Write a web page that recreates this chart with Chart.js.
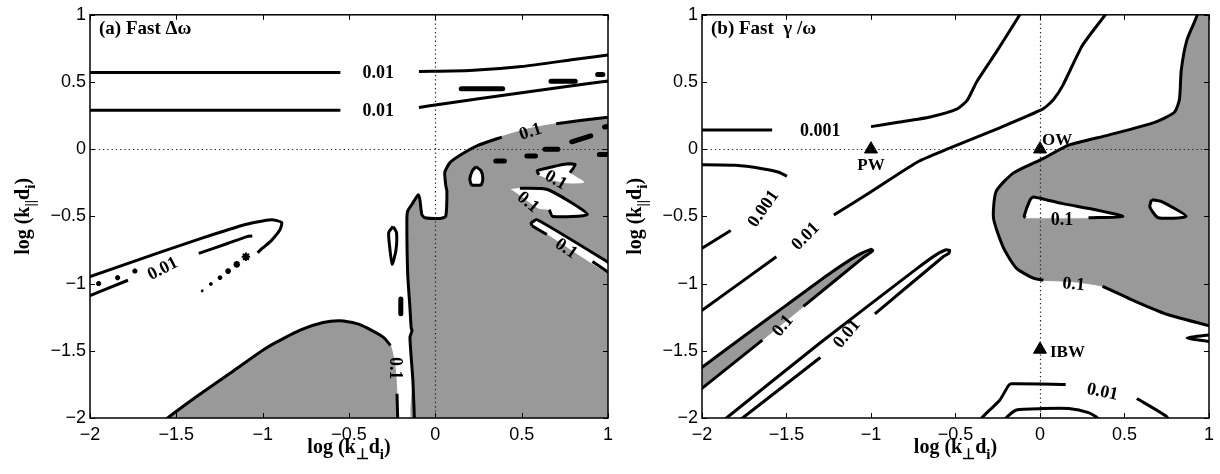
<!DOCTYPE html>
<html lang="en">
<head>
<meta charset="UTF-8">
<title>Fast wave contours</title>
<script src="https://cdn.jsdelivr.net/npm/chart.js@4.4.0/dist/chart.umd.min.js"></script>
<style>
    body { margin: 0; background: #fff; width: 1220px; height: 474px; overflow: hidden; position: relative; }
    canvas { position: absolute; top: 0; }
</style>
</head>
<body>
<canvas id="chartA" width="620" height="474" style="left:0"></canvas>
<canvas id="chartB" width="600" height="474" style="left:620px"></canvas>
<script>
// shared axis ticks (log k_perp d_i, log k_par d_i)
const tickValues = [-2, -1.5, -1, -0.5, 0, 0.5, 1];

// ---------- panel (a): Fast delta omega ----------
const aGrayMain = [[1.05,0.245],[0.85,0.215],[0.7,0.19],[0.55,0.155],[0.4,0.1],[0.25,0.03],[0.15,-0.04],[0.085,-0.1],[0.055,-0.17],[0.06,-0.265],[0.067,-0.315],[0.06,-0.5],[0.027,-0.515],[-0.06,-0.51],[-0.078,-0.487],[-0.09,-0.37],[-0.1,-0.34],[-0.135,-0.41],[-0.16,-0.46],[-0.165,-0.535],[-0.16,-0.93],[-0.147,-1.18],[-0.14,-1.33],[-0.135,-1.35],[-0.147,-1.4],[-0.13,-1.72],[-0.12,-2.05],[1.05,-2.05]];
const aGrayBlob = [[-1.58,-2.05],[-1.55,-2.0],[-1.36,-1.82],[-1.17,-1.65],[-0.975,-1.475],[-0.78,-1.345],[-0.65,-1.29],[-0.552,-1.277],[-0.45,-1.3],[-0.396,-1.33],[-0.3,-1.4],[-0.26,-1.46],[-0.235,-1.6],[-0.222,-1.82],[-0.217,-2.05]];
const aHoles = [
    [[0.235,-0.13],[0.265,-0.16],[0.275,-0.22],[0.265,-0.265],[0.21,-0.265],[0.2,-0.22],[0.215,-0.16],[0.235,-0.13]],
    [[0.59,-0.16],[0.68,-0.13],[0.76,-0.11],[0.81,-0.115],[0.78,-0.175],[0.86,-0.245],[0.76,-0.25],[0.66,-0.22],[0.6,-0.19]],
    [[0.44,-0.3],[0.5,-0.29],[0.65,-0.3],[0.88,-0.485],[0.68,-0.5],[0.66,-0.45],[0.6,-0.44],[0.52,-0.37]],
    [[0.555,-0.55],[0.59,-0.525],[1.05,-0.88],[1.05,-0.96],[0.6,-0.59],[0.56,-0.57]]
];
const aLines = [
    [[-2.05,0.571],[-0.55,0.571]],
    [[-0.095,0.578],[0.2,0.585],[0.5,0.615],[0.8,0.667],[1.05,0.71]],
    [[-2.05,0.29],[-0.55,0.29]],
    [[-0.095,0.31],[0.03,0.335],[0.25,0.375],[0.5,0.42],[0.75,0.465],[1.05,0.515]],
    [[1.05,0.245],[0.85,0.215],[0.7,0.19]],
    [[0.385,0.09],[0.25,0.03],[0.15,-0.04],[0.085,-0.1],[0.055,-0.17],[0.06,-0.265],[0.067,-0.315],[0.06,-0.5],[0.027,-0.515],[-0.06,-0.51],[-0.078,-0.487],[-0.09,-0.37],[-0.1,-0.34],[-0.135,-0.41],[-0.16,-0.46],[-0.165,-0.535],[-0.16,-0.93],[-0.147,-1.18],[-0.14,-1.33],[-0.135,-1.35],[-0.147,-1.4],[-0.13,-1.72],[-0.12,-2.05]],
    [[-1.58,-2.05],[-1.55,-2.0],[-1.36,-1.82],[-1.17,-1.65],[-0.975,-1.475],[-0.78,-1.345],[-0.65,-1.29],[-0.552,-1.277],[-0.45,-1.3],[-0.396,-1.33],[-0.3,-1.4],[-0.26,-1.46]],
    [[-0.222,-1.82],[-0.217,-2.05]],
    [[0.235,-0.13],[0.265,-0.16],[0.275,-0.22],[0.265,-0.265],[0.21,-0.265],[0.2,-0.22],[0.215,-0.16],[0.235,-0.13]],
    [[0.6,-0.19],[0.59,-0.16],[0.68,-0.13],[0.76,-0.11],[0.81,-0.115],[0.78,-0.175]],
    [[0.49,-0.29],[0.65,-0.3],[0.88,-0.485],[0.68,-0.5],[0.66,-0.45]],
    [[0.56,-0.57],[0.555,-0.55],[0.59,-0.525],[1.05,-0.88]],
    [[0.56,-0.57],[0.646,-0.635]],
    [[0.91,-0.835],[1.05,-0.96]],
    [[-0.245,-0.575],[-0.225,-0.62],[-0.228,-0.75],[-0.25,-0.855],[-0.265,-0.72],[-0.27,-0.62],[-0.245,-0.575]],
    [[-2.05,-0.97],[-1.6,-0.77],[-1.36,-0.665],[-1.1,-0.56],[-0.95,-0.525],[-0.89,-0.545],[-0.9,-0.6],[-0.95,-0.68],[-1.0,-0.735],[-1.03,-0.77]],
    [[-2.05,-1.115],[-1.78,-0.975]],
    [[-1.37,-0.775],[-1.2,-0.7],[-1.09,-0.65],[-1.06,-0.645]]
];
const aBlobs = [
    [[0.15,0.45],[0.39,0.45]], [[0.67,0.505],[0.81,0.505]], [[0.94,0.555],[0.97,0.555]],
    [[0.35,-0.087],[0.4,-0.087]], [[0.53,-0.05],[0.58,-0.05]], [[0.635,0.0],[0.71,0.0]],
    [[0.79,0.055],[0.9,0.1]], [[0.95,-0.04],[1.0,-0.04]], [[0.98,0.165],[1.0,0.17]],
    [[-0.2,-1.115],[-0.2,-1.225]]
];
const aDots = [[-1.95,-1.0],[-1.84,-0.956],[-1.74,-0.907],[-1.35,-1.054],[-1.3,-1.003],[-1.247,-0.956],[-1.2,-0.907],[-1.15,-0.857],[-1.097,-0.8]];
const aLabels = [
    ['0.01', -0.33, 0.571, 0], ['0.01', -0.33, 0.29, 0],
    ['0.1', 0.55, 0.135, -18], ['0.1', 0.7, -0.225, 30],
    ['0.1', 0.54, -0.39, 40], ['0.1', 0.76, -0.735, 35],
    ['0.1', -0.23, -1.63, 90], ['0.01', -1.58, -0.885, -27]
];

// ---------- panel (b): Fast gamma/omega ----------
const bGrayMain = [[0.92,1.05],[0.93,1.0],[0.87,0.815],[0.836,0.59],[0.825,0.37],[0.795,0.275],[0.678,0.2],[0.404,0.105],[0.17,0.03],[0.018,-0.07],[-0.16,-0.18],[-0.26,-0.315],[-0.275,-0.515],[-0.216,-0.735],[-0.14,-0.885],[-0.04,-0.96],[0.02,-0.975],[0.19,-0.985],[0.37,-1.02],[0.56,-1.13],[0.755,-1.23],[1.0,-1.31],[1.05,-1.33],[1.05,1.05]];
const bGraySliver = [[-2.05,-1.67],[-1.75,-1.39],[-1.5,-1.16],[-1.25,-0.93],[-1.08,-0.79],[-1.0,-0.745],[-0.99,-0.755],[-1.05,-0.81],[-1.4,-1.17],[-1.643,-1.42],[-2.05,-1.83]];
const bHoles = [
    [[-0.094,-0.5],[-0.06,-0.38],[-0.04,-0.355],[0.018,-0.37],[0.135,-0.405],[0.328,-0.45],[0.49,-0.5],[0.287,-0.51],[-0.094,-0.51]],
    [[0.66,-0.375],[0.72,-0.39],[0.865,-0.5],[0.7,-0.51],[0.65,-0.43],[0.66,-0.375]]
];
const bLines = [
    [[-2.05,0.143],[-1.585,0.143]],
    [[-1.0,0.168],[-0.84,0.2],[-0.65,0.24],[-0.49,0.3],[-0.43,0.365],[-0.375,0.5],[-0.26,0.72],[-0.12,1.0],[-0.1,1.05]],
    [[-2.05,-0.115],[-1.8,-0.12],[-1.643,-0.145],[-1.55,-0.17],[-1.497,-0.2]],
    [[-1.83,-0.605],[-2.05,-0.775]],
    [[-2.05,-1.245],[-1.56,-0.8]],
    [[-1.22,-0.49],[-1.0,-0.317],[-0.725,-0.095],[-0.55,0.0],[-0.257,0.15],[0.018,0.3],[0.08,0.37],[0.135,0.475],[0.25,0.77],[0.386,1.0],[0.41,1.05]],
    [[-2.05,-1.67],[-1.75,-1.39],[-1.5,-1.16],[-1.25,-0.93],[-1.08,-0.79],[-1.0,-0.745],[-0.99,-0.755],[-1.05,-0.81],[-1.4,-1.17]],
    [[-1.643,-1.42],[-2.05,-1.83]],
    [[-1.9,-2.05],[-1.855,-2.0],[-1.3,-1.44],[-0.725,-0.885],[-0.62,-0.79],[-0.56,-0.75],[-0.535,-0.752],[-0.54,-0.775],[-0.573,-0.8],[-0.977,-1.225]],
    [[-1.3,-1.55],[-1.76,-2.0],[-1.81,-2.05]],
    [[0.92,1.05],[0.93,1.0],[0.87,0.815],[0.836,0.59],[0.825,0.37],[0.795,0.275],[0.678,0.2],[0.404,0.105],[0.17,0.03],[0.018,-0.07],[-0.16,-0.18],[-0.26,-0.315],[-0.275,-0.515],[-0.216,-0.735],[-0.14,-0.885],[-0.04,-0.96],[0.02,-0.975]],
    [[0.37,-1.02],[0.56,-1.13],[0.755,-1.23],[1.05,-1.33]],
    [[-0.085,-0.51],[-0.094,-0.5],[-0.06,-0.38],[-0.04,-0.355],[0.018,-0.37],[0.135,-0.405],[0.328,-0.45],[0.49,-0.5],[0.287,-0.51]],
    [[0.66,-0.375],[0.72,-0.39],[0.865,-0.5],[0.7,-0.51],[0.65,-0.43],[0.66,-0.375]],
    [[1.05,-1.375],[0.87,-1.405],[1.05,-1.44]],
    [[-0.36,-2.05],[-0.345,-2.0],[-0.24,-1.87],[-0.187,-1.76],[-0.17,-1.745],[0.152,-1.75]],
    [[0.573,-1.855],[0.75,-1.99],[0.77,-2.05]],
    [[-0.21,-2.05],[-0.2,-2.0],[-0.14,-1.94],[0.018,-1.93],[0.17,-1.93],[0.287,-1.96],[0.34,-2.0],[0.35,-2.05]]
];
const bMarkers = [[-1, 0], [0, 0], [0, -1.49]];
const bMarkerNames = ['PW', 'OW', 'IBW'];
const bLabels = [
    ['0.001', -1.3, 0.14, 0], ['0.001', -1.64, -0.44, -55],
    ['0.01', -1.39, -0.645, -45], ['0.1', -1.525, -1.31, -50],
    ['0.01', -1.146, -1.37, -50], ['0.1', 0.13, -0.52, 0],
    ['0.1', 0.2, -1.0, 5], ['0.01', 0.37, -1.8, 12]
];

const GRAY = '#999999';
const SERIF = '"Liberation Serif", "Times New Roman", serif';

function pts(a) { return a.map(p => ({x: p[0], y: p[1]})); }

function fillSet(a, color, order) {
    return { data: pts(a), fill: 'shape', backgroundColor: color, borderColor: color,
             borderWidth: 1, pointRadius: 0, tension: 0.2, order: order };
}

function lineSet(a, w) {
    return { data: pts(a), fill: false, borderColor: '#000', borderWidth: w || 3,
             pointRadius: 0, tension: 0.2, borderJoinStyle: 'round', order: 1 };
}

function fmt(v) { return String(v).replace('-', '\u2212'); }

function drawRich(ctx, parts, cx, by) {
    let total = 0;
    parts.forEach(p => {
        ctx.font = p[1] ? 'bold 15px ' + SERIF : 'bold 20px ' + SERIF;
        total += ctx.measureText(p[0]).width;
    });
    let x = cx - total / 2;
    ctx.textAlign = 'left';
    ctx.textBaseline = 'alphabetic';
    parts.forEach(p => {
        ctx.font = p[1] ? 'bold 15px ' + SERIF : 'bold 20px ' + SERIF;
        ctx.fillText(p[0], x, by + (p[1] ? 6 : 0));
        x += ctx.measureText(p[0]).width;
    });
}

function decor(title, labels, markerText) {
    return {
        id: 'decor',
        afterDatasetsDraw(chart) {
            const ctx = chart.ctx, a = chart.chartArea;
            const xs = chart.scales.x, ys = chart.scales.y;
            ctx.save();
            // dotted zero lines
            ctx.strokeStyle = '#222';
            ctx.lineWidth = 1.2;
            ctx.setLineDash([1.3, 3]);
            ctx.beginPath();
            const x0 = Math.round(xs.getPixelForValue(0)) + 0.5;
            const y0 = Math.round(ys.getPixelForValue(0)) + 0.5;
            ctx.moveTo(x0, a.top); ctx.lineTo(x0, a.bottom);
            ctx.moveTo(a.left, y0); ctx.lineTo(a.right, y0);
            ctx.stroke();
            ctx.setLineDash([]);
            // contour labels
            ctx.fillStyle = '#000';
            ctx.font = 'bold 18px ' + SERIF;
            ctx.textAlign = 'center';
            ctx.textBaseline = 'middle';
            labels.forEach(l => {
                ctx.save();
                ctx.translate(xs.getPixelForValue(l[1]), ys.getPixelForValue(l[2]));
                ctx.rotate(l[3] * Math.PI / 180);
                ctx.fillText(l[0], 0, 1);
                ctx.restore();
            });
            // marker names
            if (markerText) {
                ctx.font = 'bold 17px ' + SERIF;
                ctx.textBaseline = 'alphabetic';
                const offs = [[0, 21, 'center'], [2, -4, 'left'], [10, 8, 'left']];
                bMarkers.forEach((m, i) => {
                    ctx.textAlign = offs[i][2];
                    ctx.fillText(bMarkerNames[i], xs.getPixelForValue(m[0]) + offs[i][0],
                                 ys.getPixelForValue(m[1]) + offs[i][1]);
                });
            }
            ctx.restore();
        },
        afterDraw(chart) {
            const ctx = chart.ctx, a = chart.chartArea;
            const xs = chart.scales.x, ys = chart.scales.y;
            ctx.save();
            ctx.strokeStyle = '#000';
            ctx.lineWidth = 1.5;
            ctx.strokeRect(a.left, a.top, a.right - a.left, a.bottom - a.top);
            ctx.lineWidth = 1;
            ctx.beginPath();
            tickValues.forEach(t => {
                const px = Math.round(xs.getPixelForValue(t)) + 0.5;
                ctx.moveTo(px, a.bottom); ctx.lineTo(px, a.bottom - 5);
                ctx.moveTo(px, a.top); ctx.lineTo(px, a.top + 5);
                const py = Math.round(ys.getPixelForValue(t)) + 0.5;
                ctx.moveTo(a.left, py); ctx.lineTo(a.left + 5, py);
                ctx.moveTo(a.right, py); ctx.lineTo(a.right - 5, py);
            });
            ctx.stroke();
            ctx.fillStyle = '#000';
            // panel title
            ctx.font = 'bold 19px ' + SERIF;
            ctx.textAlign = 'left';
            ctx.textBaseline = 'alphabetic';
            ctx.fillText(title, a.left + 9, a.top + 19);
            // axis titles
            drawRich(ctx, [['log (k', 0], ['\u22a5', 1], ['d', 0], ['i', 1], [')', 0]],
                     (a.left + a.right) / 2, 453);
            ctx.save();
            ctx.translate(a.left - 61, (a.top + a.bottom) / 2);
            ctx.rotate(-Math.PI / 2);
            drawRich(ctx, [['log (k', 0], ['||', 1], ['d', 0], ['i', 1], [')', 0]], 0, 0);
            ctx.restore();
            ctx.restore();
        }
    };
}

function makeChart(id, datasets, yWidth, padRight, plugin) {
    const tickFont = { family: '"Liberation Sans", Arial, sans-serif', size: 18 };
    return new Chart(document.getElementById(id), {
        type: 'line',
        data: { datasets: datasets },
        options: {
            responsive: false,
            animation: false,
            layout: { padding: { left: 0, right: padRight, top: 12, bottom: 0 } },
            plugins: { legend: { display: false }, tooltip: { enabled: false } },
            scales: {
                x: {
                    type: 'linear', min: -2, max: 1,
                    grid: { display: false, drawTicks: false }, border: { display: false },
                    ticks: { stepSize: 0.5, padding: 6, color: '#000', font: tickFont,
                             maxRotation: 0, autoSkip: false, callback: fmt },
                    afterFit: s => { s.height = 56; }
                },
                y: {
                    type: 'linear', min: -2, max: 1,
                    grid: { display: false, drawTicks: false }, border: { display: false },
                    ticks: { stepSize: 0.5, padding: 4, color: '#000', font: tickFont, callback: fmt },
                    afterFit: s => { s.width = yWidth; }
                }
            }
        },
        plugins: [plugin]
    });
}

// panel (a)
const aSets = [fillSet(aGrayMain, GRAY, 3), fillSet(aGrayBlob, GRAY, 3)]
    .concat(aHoles.map(h => fillSet(h, '#fff', 2)))
    .concat(aLines.map(l => lineSet(l, 3)))
    .concat(aBlobs.map(b => Object.assign(lineSet(b, 5), { borderCapStyle: 'round' })))
    .concat([{ data: pts(aDots), showLine: false, pointStyle: 'star',
               pointRadius: [2.5, 2.5, 2.5, 1.2, 1.8, 2.3, 2.8, 3.3, 4.2], borderColor: '#000',
               backgroundColor: '#000', borderWidth: 2, order: 0 }]);
makeChart('chartA', aSets, 90, 12, decor('(a) Fast \u0394\u03c9', aLabels, false));

// panel (b)
const bSets = [fillSet(bGrayMain, GRAY, 3), fillSet(bGraySliver, GRAY, 3)]
    .concat(bHoles.map(h => fillSet(h, '#fff', 2)))
    .concat(bLines.map(l => lineSet(l, 3)))
    .concat([{ data: pts(bMarkers), showLine: false, pointStyle: 'triangle', pointRadius: 7.5,
               backgroundColor: '#000', borderColor: '#000', borderWidth: 1, order: 0 }]);
makeChart('chartB', bSets, 82, 5, decor('(b) Fast  \u03b3 /\u03c9', bLabels, true));
</script>
</body>
</html>
